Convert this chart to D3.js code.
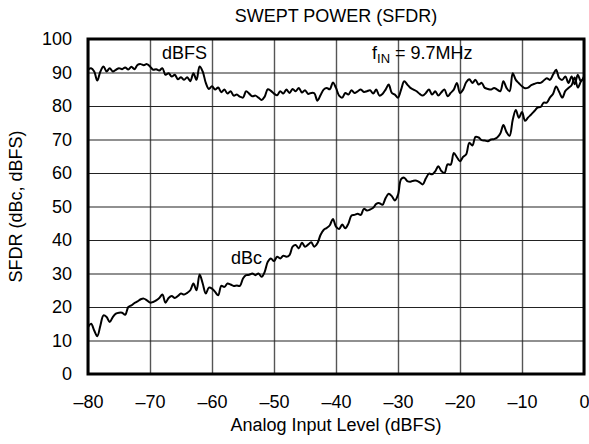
<!DOCTYPE html>
<html>
<head>
<meta charset="utf-8">
<script src="https://cdn.jsdelivr.net/npm/d3@7"></script>
<style>
  html, body { margin: 0; padding: 0; background: #fff; }
  svg text { font-family: "Liberation Sans", Arial, Helvetica, sans-serif; fill: #000; }
</style>
</head>
<body>
<svg id="chart" width="589" height="444"></svg>
<script>
// ---- data ----
const chartTitle = "SWEPT POWER (SFDR)";
const xLabel = "Analog Input Level (dBFS)";
const yLabel = "SFDR (dBc, dBFS)";
const xTicks = [-80, -70, -60, -50, -40, -30, -20, -10, 0];
const yTicks = [0, 10, 20, 30, 40, 50, 60, 70, 80, 90, 100];
// analog input level sweep, -80 dBFS to 0 dBFS in 0.5 dB steps
const inputLevel = d3.range(-80, 0.25, 0.5);

// SFDR in dBFS
const sfdrDBFS = [
  90.8, 91.3, 90.3, 87.6, 90.3, 91.8, 90.3, 91.3, 90.3, 90.8,
  91.3, 91.0, 91.5, 90.9, 91.7, 91.0, 92.3, 92.5, 92.2, 92.5,
  91.8, 90.8, 91.0, 90.6, 91.3, 89.3, 89.8, 88.8, 89.3, 88.0,
  88.6, 87.8, 88.6, 87.4, 89.8, 87.8, 91.8, 90.3, 86.9, 85.1,
  85.9, 84.9, 85.5, 84.1, 84.9, 83.7, 84.4, 83.1, 83.4, 82.8,
  82.5, 84.4, 83.7, 82.9, 83.1, 82.5, 81.8, 82.8, 85.0, 84.5,
  83.7, 83.2, 84.4, 83.7, 84.9, 83.9, 85.1, 84.4, 85.4, 84.0,
  84.7, 83.6, 83.9, 83.8, 81.6, 83.2, 84.9, 85.4, 85.0, 87.0,
  85.4, 83.1, 82.5, 83.9, 83.4, 84.7, 83.9, 84.4, 84.9, 84.2,
  84.4, 84.7, 83.7, 84.9, 83.1, 83.6, 84.9, 86.4, 83.9, 83.4,
  82.5, 84.9, 87.4, 86.4, 85.4, 84.9, 84.4, 83.6, 83.1, 83.9,
  84.9, 83.4, 84.4, 83.1, 84.1, 84.9, 82.9, 83.9, 84.9, 86.9,
  83.9, 84.9, 87.1, 88.0, 86.9, 87.8, 86.4, 86.9, 85.4, 85.1,
  84.9, 85.4, 84.9, 84.4, 87.4, 85.4, 84.4, 89.8, 87.8, 86.8,
  85.9, 85.3, 85.5, 86.2, 86.6, 86.9, 86.9, 87.6, 88.3, 87.8,
  89.3, 90.8, 88.3, 87.8, 88.8, 86.9, 88.8, 86.5, 89.3, 87.4,
  88.8
];

// SFDR in dBc
const sfdrDBc = [
  14.0, 15.0, 13.0, 11.3, 14.5, 17.5, 17.0, 15.5, 17.0, 18.0,
  18.3, 18.3, 17.7, 20.0, 20.5, 21.2, 21.7, 22.3, 22.5, 22.0,
  21.3, 21.5, 22.0, 22.7, 23.7, 21.3, 22.7, 23.3, 22.7, 23.3,
  24.0, 23.7, 24.2, 25.0, 27.0, 25.0, 29.7, 27.0, 24.0, 25.8,
  25.5, 24.5, 23.5, 26.3, 26.0, 27.0, 26.7, 26.3, 26.4, 26.3,
  28.5, 29.5, 29.6, 30.0, 29.5, 30.0, 29.0, 30.5, 33.5, 34.5,
  33.7, 35.0, 34.5, 35.3, 35.0, 35.5, 38.0, 38.5, 37.5, 39.2,
  38.0, 38.6, 39.3, 38.0, 39.0, 41.5, 43.0, 43.6, 44.4, 46.3,
  44.0, 43.3, 44.6, 43.5, 44.9, 47.3, 47.5, 47.8, 47.5, 49.3,
  48.8, 49.1, 49.6, 50.8, 51.0, 50.5, 52.5, 53.8, 53.1, 51.8,
  53.5, 58.2, 58.6, 57.6, 57.4, 57.7, 57.7, 57.2, 56.6, 58.4,
  59.8, 59.6, 60.5, 62.0, 60.6, 60.0, 62.6, 62.5, 66.0, 64.7,
  63.5, 64.8, 65.6, 69.0, 68.2, 70.8, 70.6, 69.8, 69.7, 69.5,
  70.0, 70.1, 70.6, 71.8, 74.3, 72.2, 71.1, 75.8, 78.8, 76.5,
  78.2, 75.6, 76.6, 77.5, 78.5, 79.5, 79.7, 81.0, 81.0, 82.5,
  83.6, 85.8, 84.2, 82.5, 84.5, 85.4, 86.2, 88.5, 85.5, 87.3,
  88.4
];

// ---- drawing ----
const svg = d3.select("#chart");
const W = 589, H = 444;
const pLeft = 88, pRight = 584, pTop = 39, pBottom = 374;
const fontSize = 18;
const fontFam = '"Liberation Sans", Arial, Helvetica, sans-serif';

const x = d3.scaleLinear().domain([-80, 0]).range([pLeft, pRight]);
const y = d3.scaleLinear().domain([0, 100]).range([pBottom, pTop]);

svg.append("rect").attr("width", W).attr("height", H).attr("fill", "#fff");

const fmt = d => d < 0 ? "\u2013" + Math.abs(d) : String(d);

// vertical grid + x tick labels
const xAxis = svg.append("g")
  .attr("transform", `translate(0,${pBottom})`)
  .call(d3.axisBottom(x).tickValues(xTicks).tickFormat(fmt)
        .tickSizeInner(-(pBottom - pTop)).tickSizeOuter(0));
xAxis.select(".domain").remove();
xAxis.selectAll(".tick line").attr("stroke", "#555").attr("stroke-width", 1.4);
xAxis.selectAll(".tick text")
  .attr("font-size", fontSize).attr("dy", null)
  .attr("y", 408 - pBottom)
  .style("font-family", fontFam).style("fill", "#000");

// horizontal grid + y tick labels
const yAxis = svg.append("g")
  .attr("transform", `translate(${pLeft},0)`)
  .call(d3.axisLeft(y).tickValues(yTicks).tickFormat(fmt)
        .tickSizeInner(-(pRight - pLeft)).tickSizeOuter(0).tickPadding(16));
yAxis.select(".domain").remove();
yAxis.selectAll(".tick line").attr("stroke", "#222").attr("stroke-width", 1.2);
yAxis.selectAll(".tick text").attr("font-size", fontSize)
  .style("font-family", fontFam).style("fill", "#000");

// frame
svg.append("rect")
  .attr("x", pLeft).attr("y", pTop)
  .attr("width", pRight - pLeft).attr("height", pBottom - pTop)
  .attr("fill", "none").attr("stroke", "#000").attr("stroke-width", 3);

// lines
const line = d3.line()
  .x((d, i) => x(inputLevel[i]))
  .y(d => y(d))
  .curve(d3.curveCatmullRom.alpha(0.5));

svg.append("clipPath").attr("id", "plotclip").append("rect")
  .attr("x", pLeft).attr("y", pTop).attr("width", pRight - pLeft).attr("height", pBottom - pTop);

const lines = svg.append("g").attr("clip-path", "url(#plotclip)");
[sfdrDBFS, sfdrDBc].forEach(series => {
  lines.append("path")
    .datum(series)
    .attr("d", line)
    .attr("fill", "none")
    .attr("stroke", "#000")
    .attr("stroke-width", 2)
    .attr("stroke-linejoin", "round")
    .attr("stroke-linecap", "round");
});

// title
svg.append("text")
  .attr("x", (pLeft + pRight) / 2).attr("y", 22)
  .attr("text-anchor", "middle").attr("font-size", fontSize)
  .text(chartTitle);

// x axis label
svg.append("text")
  .attr("x", (pLeft + pRight) / 2).attr("y", 431)
  .attr("text-anchor", "middle").attr("font-size", fontSize)
  .text(xLabel);

// y axis label
svg.append("text")
  .attr("transform", `translate(22,${(pTop + pBottom) / 2}) rotate(-90)`)
  .attr("text-anchor", "middle").attr("font-size", fontSize)
  .text(yLabel);

// annotations
svg.append("text").attr("x", 162).attr("y", 59).attr("font-size", fontSize).text("dBFS");
svg.append("text").attr("x", 231).attr("y", 264).attr("font-size", fontSize).text("dBc");

const fin = svg.append("text").attr("x", 372).attr("y", 59).attr("font-size", fontSize);
fin.append("tspan").text("f");
fin.append("tspan").attr("font-size", 13).attr("dy", 4).text("IN");
fin.append("tspan").attr("dy", -4).text(" = 9.7MHz");
</script>
</body>
</html>
